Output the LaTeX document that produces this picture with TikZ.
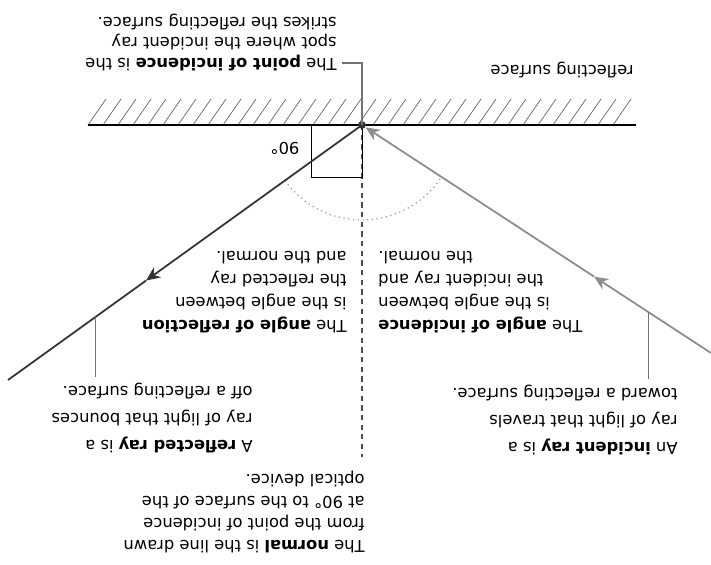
\documentclass[tikz,border=0pt]{standalone}
\usepackage{fontspec}
\setmainfont{DejaVu Sans}
\usetikzlibrary{arrows.meta,calc}

\begin{document}
\begin{tikzpicture}[x=0.02cm,y=-0.02cm,
    note/.style={rotate=180,inner sep=0pt,font=\fontsize{9.3}{12.5}\selectfont},
    leader/.style={draw=black!55,line width=0.6pt,shorten >=3pt},
    incray/.style={draw=black!45,line width=1pt},
    refray/.style={draw=black!80,line width=1pt},
    tip/.style={-{Stealth[length=8pt,width=7pt]}}]
  \useasboundingbox (0,0) rectangle (711,565);
  % mirror
  \foreach \x in {88,103,...,618} {
    \draw[black!60,line width=0.4pt] (\x,125) -- ++(18,-26);
  }
  \draw[line width=0.8pt] (88,125) -- (636,125);
  \coordinate (P) at (362,125);
  \coordinate (incend) at (711,353);
  \coordinate (refend) at (8,380);
  \coordinate (normend) at (362,457);
  \coordinate (incmid) at ($(P)!0.665!(incend)$);
  \coordinate (refmid) at ($(P)!0.61!(refend)$);
  \coordinate (incfoot) at ($(P)!0.822!(incend)$);
  \coordinate (reffoot) at ($(P)!0.754!(refend)$);
  \coordinate (poielbow) at (362,63);
  % normal, right angle and angle arc
  \draw[black!70,line width=0.7pt,dash pattern=on 3pt off 2.5pt] (P) -- (normend);
  \draw[line width=0.5pt] (P) rectangle ++(-51,52);
  \draw[black!40,dotted,line width=0.7pt] ($(P)+(144.2:95)$) arc[start angle=144.2,end angle=33.2,radius=95];
  % rays
  \draw[incray,tip] (incend) -- (incmid);
  \draw[incray,tip,shorten >=2.5pt] (incmid) -- (P);
  \draw[refray,tip] (P) -- (refmid);
  \draw[refray] (refmid) -- (refend);
  \fill[black!80] (P) circle (2.2pt);
  % labels
  \node[note] (rightlbl) at (285,148) {90°};
  \node[note,anchor=west] (surflbl) at (634,70) {reflecting surface};
  \node[note,anchor=north west,align=left,font=\fontsize{9.3}{11.7}\selectfont] (poinote) at (337,71)
    {The \textbf{point of incidence} is the\\spot where the incident ray\\strikes the reflecting surface.};
  \node[note,anchor=north west,align=left,font=\fontsize{9.3}{15.4}\selectfont] (incnote) at (678,455)
    {An \textbf{incident ray} is a\\ray of light that travels\\toward a reflecting surface.};
  \node[note,anchor=north west,align=left,font=\fontsize{9.3}{15.4}\selectfont] (refnote) at (253,453)
    {A \textbf{reflected ray} is a\\ray of light that bounces\\off a reflecting surface.};
  \node[note,anchor=north east,align=right,font=\fontsize{9.3}{13}\selectfont] (aincnote) at (378,333)
    {The \textbf{angle of incidence}\\is the angle between\\the incident ray and\\the normal.};
  \node[note,anchor=north west,align=left,font=\fontsize{9.3}{13}\selectfont] (arefnote) at (347,333)
    {The \textbf{angle of reflection}\\is the angle between\\the reflected ray\\and the normal.};
  \node[note,anchor=north west,align=left] (normnote) at (365,553)
    {The \textbf{normal} is the line drawn\\from the point of incidence\\at 90° to the surface of the\\optical device.};
  % leaders
  \draw[leader] (P) -- (poielbow) -- (poielbow -| poinote.north west);
  \draw[leader] (incfoot) -- (incfoot |- incnote.south);
  \draw[leader] (reffoot) -- (reffoot |- refnote.south);
\end{tikzpicture}
\end{document}
